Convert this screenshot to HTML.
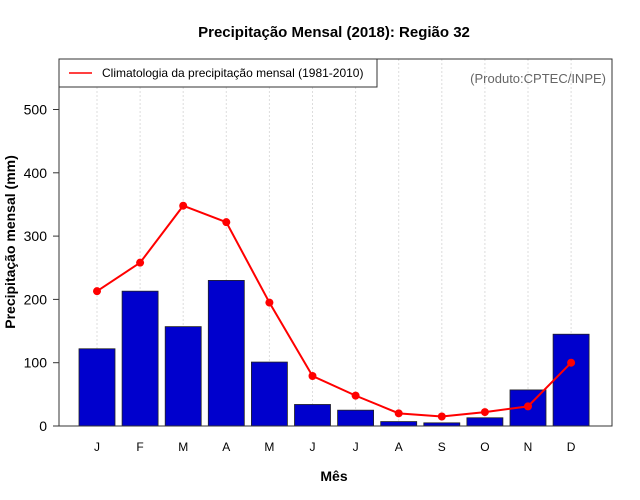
<!DOCTYPE html>
<html><head><meta charset="utf-8"><style>
body{margin:0;background:#fff}
svg{display:block;font-family:"Liberation Sans",sans-serif}
</style></head><body>
<svg id="c" width="640" height="500">
<text x="334" y="37" text-anchor="middle" font-size="15" font-weight="bold">Precipitação Mensal (2018): Região 32</text>
<text x="334" y="481" text-anchor="middle" font-size="14" font-weight="bold">Mês</text>
<text transform="translate(15,242) rotate(-90)" text-anchor="middle" font-size="14" font-weight="bold">Precipitação mensal (mm)</text>
<g id="grid"></g><g id="bars"></g><g id="line"></g><g id="axes"></g>
<rect x="59" y="59" width="553" height="367" fill="none" stroke="#333"/>
<g>
<rect x="59" y="59" width="318" height="28" fill="#fff" stroke="#333"/>
<line x1="69" y1="73" x2="92" y2="73" stroke="red" stroke-width="1.5"/>
<text x="102" y="77" font-size="12">Climatologia da precipitação mensal (1981-2010)</text>
</g>
<text x="606" y="83" text-anchor="end" font-size="13" fill="#666">(Produto:CPTEC/INPE)</text>
</svg>
<script>
const months=["J","F","M","A","M","J","J","A","S","O","N","D"];
const observed=[122,213,157,230,101,34,25,7,5,13,57,145];
const climatology=[213,258,348,322,195,79,48,20,15,22,31,100];
const yTicks=[0,100,200,300,400,500];
const NS="http://www.w3.org/2000/svg";
const xc=i=>97+i*43.1;
const y=v=>426-v*0.633;
function mk(p,t,a){const e=document.createElementNS(NS,t);for(const k in a)e.setAttribute(k,a[k]);document.getElementById(p).appendChild(e);return e;}
months.forEach((m,i)=>{
 let g=mk("grid","line",{x1:xc(i),x2:xc(i),y1:59,y2:426,stroke:"#ddd","stroke-dasharray":"2,2"});
 
 
 let b=mk("bars","rect",{x:xc(i)-18,y:y(observed[i]),width:36,height:426-y(observed[i]),fill:"#0000cd",stroke:"#222","stroke-width":0.8});
 
 
 let t=mk("axes","text",{x:xc(i),y:451,"text-anchor":"middle","font-size":12});
 t.textContent=m;
 
 
});
let l=mk("line","polyline",{points:climatology.map((v,i)=>xc(i)+","+y(v)).join(" "),fill:"none",stroke:"red","stroke-width":2});


climatology.forEach((v,i)=>{
 let c=mk("line","circle",{cx:xc(i),cy:y(v),r:4,fill:"red"});
 
 
});
mk("axes","line",{x1:59,x2:59,y1:y(0),y2:y(500),stroke:"#333"});
yTicks.forEach(v=>{
 mk("axes","line",{x1:53,x2:59,y1:y(v),y2:y(v),stroke:"#333"});
 let t=mk("axes","text",{x:47,y:y(v)+5,"text-anchor":"end","font-size":14});
 t.textContent=v;
 
 
});
</script>
</body></html>
